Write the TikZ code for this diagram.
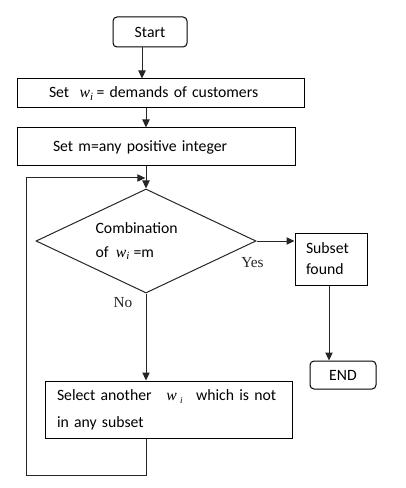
\documentclass[tikz,border=0pt]{standalone}
\usepackage{fontspec}
\setmainfont{Carlito}
\newfontfamily\tms{Liberation Serif}
\usetikzlibrary{shapes,arrows.meta,positioning,shapes.geometric}
\newcommand{\wvar}{{\tms\itshape w}\textsubscript{\tms\itshape i}}

\begin{document}
\begin{tikzpicture}[
    x=0.75pt, y=-0.75pt,
    font=\fontsize{11.8}{14}\selectfont,
    box/.style={rectangle, draw=black, line width=0.75pt, align=left},
    term/.style={rectangle, draw=black, line width=0.75pt, rounded corners=3pt, text centered},
    decision/.style={diamond, draw=black!85, line width=0.75pt, aspect=2.1, inner sep=0pt, align=left},
    arrow/.style={-{Triangle[length=6pt,width=5.5pt]}, black!85, line width=0.75pt},
    line/.style={black!85, line width=0.75pt},
    lbl/.style={font=\tms\fontsize{11.5}{13}\selectfont}
]
\useasboundingbox (0,0) rectangle (405,488);

% Terminals
\node[term, minimum width=55.5pt, minimum height=22.5pt] (start) at (150,32) {Start};
\node[term, minimum width=49.5pt, minimum height=21pt] (stop) at (343,375) {END};

% Process boxes
\node[box, text width=167.25pt, inner xsep=24pt, minimum height=21.75pt] (demands) at (160.5,93.5)
    {Set \ \wvar\,= demands\ of customers};
\node[box, text width=154.5pt, inner xsep=27pt, minimum height=28.5pt] (integer) at (156,147)
    {Set m=any positive\ integer};
\node[box, text width=37.5pt, inner xsep=8.25pt, minimum height=39pt,
      font=\fontsize{11.8}{15.75}\selectfont] (found) at (331,259)
    {Subset\\found};
\node[box, text width=167.25pt, inner xsep=9pt, minimum height=42.75pt,
      font=\fontsize{11.8}{20}\selectfont] (select) at (168.5,409.5)
    {Select another\hspace{11pt}{\tms\itshape w}\hspace{2.5pt}\raisebox{-2pt}{\tms\itshape\scriptsize i}\hspace{10pt}which is not\\in any subset};

% Decision
\node[decision, minimum width=165pt, minimum height=78pt,
      font=\fontsize{11.8}{18}\selectfont] (combo) at (146,241)
    {Combination\hspace*{14pt}\\of \ \wvar\ =m};

% Loop corners
\coordinate (join) at (146,178);
\coordinate (corner) at (26,475);

% Connections
\draw[arrow] ([xshift=-6pt]start.south) -- ([xshift=-6pt]start.south |- demands.north);
\draw[arrow] (demands.south -| combo.north) -- (integer.north -| combo.north);
\draw[arrow] (integer.south -| combo.north) -- (combo.north);
\draw[arrow] (combo.east) -- node[lbl, pos=0, xshift=-3pt, yshift=-16.5pt] (yes) {Yes} (combo.east -| found.west);
\draw[arrow] (combo.south) -- node[lbl, pos=0, xshift=-17.25pt, yshift=-6.75pt] (no) {No} (combo.south |- select.north);
\draw[arrow] ([xshift=-1.5pt]found.south) -- ([xshift=-1.5pt]found.south |- stop.north);
\draw[arrow] (select.south -| join) |- (corner) |- ([xshift=-0.5pt]join);

\end{tikzpicture}
\end{document}
